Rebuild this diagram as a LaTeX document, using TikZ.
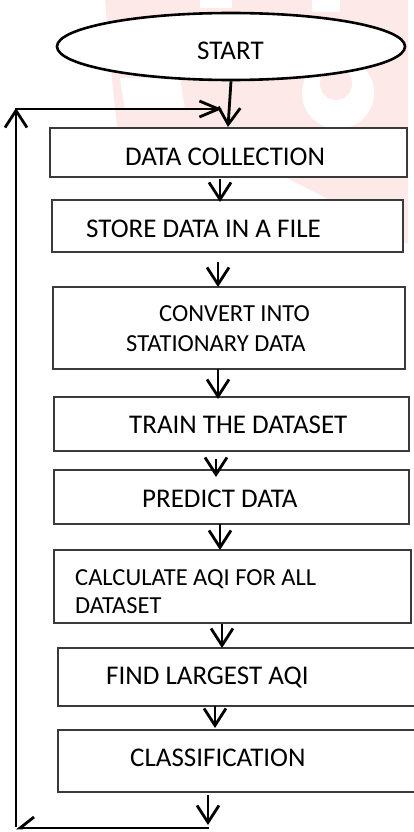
\documentclass[tikz,border=0pt]{standalone}
\usepackage{fontspec}
\setmainfont{Carlito}
\usetikzlibrary{arrows.meta,shapes.geometric}
\definecolor{boxgray}{HTML}{3A3A3A}
\definecolor{wmpink}{HTML}{FEE9E9}
\begin{document}
\begin{tikzpicture}[x=1pt,y=-1pt,
  box/.style={draw=boxgray, line width=1.8pt, fill=white, inner sep=0pt},
  txt/.style={inner sep=0pt, font=\fontsize{27}{31}\selectfont},
  txts/.style={inner sep=0pt, font=\fontsize{24.5}{28}\selectfont},
  arr/.style={line width=2.8pt, -{Straight Barb[length=17pt,width=22pt]}},
  arrh/.style={line width=2.8pt, -{Straight Barb[length=19pt,width=16pt]}},
  arrl/.style={line width=2.8pt, -{Straight Barb[length=14pt,width=22pt,harpoon,swap]}}]
\useasboundingbox (0,0) rectangle (414,832);
\fill[white] (0,0) rectangle (414,832);
% watermark
\fill[wmpink] (105,0) -- (408,0) -- (408,243) -- (380,243) -- (330,200) -- (285,177) -- (200,150) -- (117,127) -- (110,60) -- cycle;
\fill[white] (338,93) circle (36pt);
\fill[wmpink] (336,84) circle (16pt);
\fill[white] (200,0) rectangle (232,8);
\fill[white] (312,0) rectangle (340,12);
\fill[white] (120,78) -- (180,78) -- (185,110) -- (125,110) -- cycle;
% start
\node[ellipse, draw, line width=2.6pt, fill=white, minimum width=348pt, minimum height=67pt, inner sep=0pt] (e) at (231,46.5) {};
\node[txt, anchor=base west] (ts) at (197,60) {START};
% boxes
\node[box, minimum width=357pt, minimum height=49pt] (b1) at (228.5,152.5) {};
\node[box, minimum width=351pt, minimum height=52pt] (b2) at (227.5,226) {};
\node[box, minimum width=352pt, minimum height=82pt] (b3) at (229,328) {};
\node[box, minimum width=355pt, minimum height=54pt] (b4) at (231.5,424) {};
\node[box, minimum width=355pt, minimum height=54pt] (b5) at (231.5,497) {};
\node[box, minimum width=357pt, minimum height=73pt] (b6) at (232.5,586.5) {};
\node[box, minimum width=362pt, minimum height=58pt] (b7) at (239,677) {};
\node[box, minimum width=362pt, minimum height=62pt] (b8) at (239,761) {};
% texts
\node[txt, anchor=base west] (t1) at (125,165) {DATA COLLECTION};
\node[txt, anchor=base west] (t2) at (86,237) {STORE DATA IN A FILE};
\node[txts, anchor=base west] (t3a) at (159,321) {CONVERT INTO};
\node[txts, anchor=base west] (t3b) at (126,351) {STATIONARY DATA};
\node[txt, anchor=base west] (t4) at (129,433) {TRAIN THE DATASET};
\node[txt, anchor=base west] (t5) at (142,507) {PREDICT DATA};
\node[txts, anchor=base west] (t6a) at (75,585) {CALCULATE AQI FOR ALL};
\node[txts, anchor=base west] (t6b) at (75,613) {DATASET};
\node[txt, anchor=base west] (t7) at (106,684) {FIND LARGEST AQI};
\node[txt, anchor=base west] (t8) at (130,766) {CLASSIFICATION};
% connector points
\coordinate (s1) at (228,127);
\coordinate (a1s) at (220,179); \coordinate (a1e) at (220,202);
\coordinate (a2s) at (218,262); \coordinate (a2e) at (218,287);
\coordinate (a3s) at (218,369); \coordinate (a3e) at (218,399);
\coordinate (a4s) at (216,459); \coordinate (a4e) at (216,477);
\coordinate (a5s) at (220,524); \coordinate (a5e) at (220,550);
\coordinate (a6s) at (222,624); \coordinate (a6e) at (222,648);
\coordinate (a7s) at (215,706); \coordinate (a7e) at (215,728);
\coordinate (a8s) at (208,795); \coordinate (a8e) at (208,825);
\coordinate (L1) at (209,828);
\coordinate (L2) at (16,828);
\coordinate (L3) at (16,108);
\coordinate (L4) at (15,109);
\coordinate (L5) at (222,109);
% connectors
\draw[arr] (e.south) -- (s1);
\draw[arr] (a1s) -- (a1e);
\draw[arr] (a2s) -- (a2e);
\draw[arr] (a3s) -- (a3e);
\draw[arr] (a4s) -- (a4e);
\draw[arr] (a5s) -- (a5e);
\draw[arr] (a6s) -- (a6e);
\draw[arr] (a7s) -- (a7e);
\draw[arr] (a8s) -- (a8e);
\draw[arrl] (L1) -- (L2);
\draw[arr] ([yshift=1.4pt]L2) -- (L3);
\draw[arrh] (L4) -- (L5);
\end{tikzpicture}
\end{document}
